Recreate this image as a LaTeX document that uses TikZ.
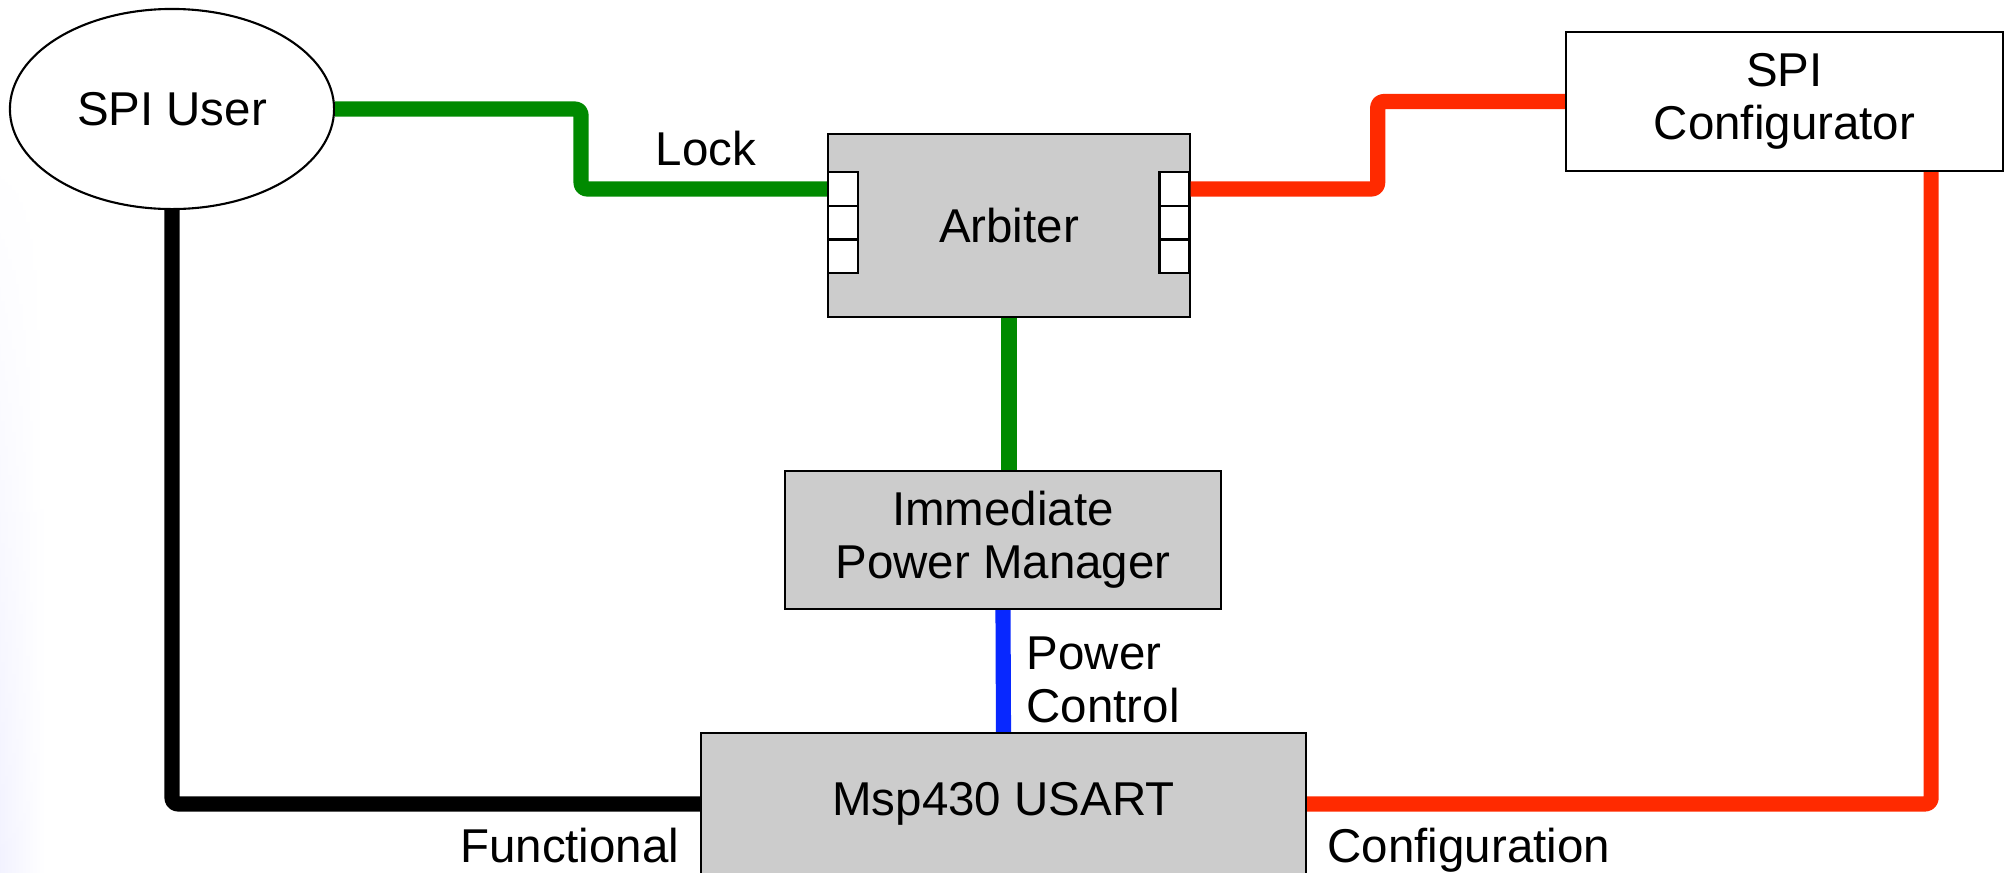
\documentclass[tikz,border=0pt]{standalone}
\usepackage{fontspec}
\setmainfont{Liberation Sans}
\usetikzlibrary{shapes.geometric,calc,fadings}
\definecolor{wiregreen}{RGB}{0,138,0}
\definecolor{wirered}{RGB}{255,42,0}
\definecolor{wireblue}{RGB}{8,40,255}
\definecolor{boxgray}{RGB}{204,204,204}

\begin{document}
\begin{tikzpicture}[x=0.01cm, y=-0.01cm,
  every node/.style={font=\fontsize{13.5}{15}\selectfont},
  block/.style={draw, line width=0.6pt, fill=boxgray, align=center, inner sep=0pt},
  port/.style={draw, line width=0.6pt, fill=white, minimum width=0.3cm, minimum height=0.337cm, inner sep=0pt},
  wire/.style={line width=4.3pt, rounded corners=0.6mm, line join=round},
  wiretext/.style={inner sep=0pt, align=left}]
  \useasboundingbox (0,0) rectangle (2011,872);

  % faint slide background on the left
  \shade[left color=blue!5, right color=white, path fading=north] (0,150) rectangle (45,872);

  % SPI User
  \node[draw, ellipse, line width=0.6pt, minimum width=3.24cm, minimum height=2cm, inner sep=0pt] (user) at (172,109) {SPI User};

  % Arbiter with its ports
  \node[block, minimum width=3.62cm, minimum height=1.83cm] (arb) at (1009,225.5) {Arbiter};
  \foreach \i in {0,1,2} {
    \node[port] (arbL\i) at (843,{189+33.7*\i}) {};
    \node[port] (arbR\i) at (1174.5,{189+33.7*\i}) {};
  }

  % SPI Configurator
  \node[block, fill=white, minimum width=4.37cm, minimum height=1.39cm] (cfg) at (1784.5,101.5) {SPI\\Configurator};

  % Immediate Power Manager
  \node[block, minimum width=4.36cm, minimum height=1.38cm] (ipm) at (1003,540) {Immediate\\Power Manager};

  % Msp430 USART
  \node[block, minimum width=6.05cm, minimum height=1.42cm] (usart) at (1003.5,804) {Msp430 USART};

  % Wires
  \coordinate (lockmid) at ($(user.east)!0.5!(arbL0.west)$);
  \coordinate (cfgmid) at ($(arbR0.east)!0.5!(cfg.west)$);
  \draw[wire, wiregreen] (user.east) -| (lockmid) |- (arbL0.west);
  \draw[wire, wiregreen] (arb.south) -- (arb.south |- ipm.north);
  \draw[wire, wirered] (arbR0.east) -| (cfgmid) |- (cfg.west);
  \draw[wire, wirered] ([xshift=-0.73cm]cfg.south east) |- (usart.east);
  \draw[wire, wireblue] (ipm.south) -- (usart.north);
  \draw[wire, black] (user.south) |- (usart.west);

  % Labels
  \node[wiretext, anchor=base] (lock) at (706,165) {Lock};
  \node[wiretext, anchor=west] (pwrctl) at (1026,680) {Power\\Control};
  \node[wiretext, anchor=base east] (func) at (680,862) {Functional};
  \node[wiretext, anchor=base west] (conf) at (1327,862) {Configuration};
\end{tikzpicture}
\end{document}
